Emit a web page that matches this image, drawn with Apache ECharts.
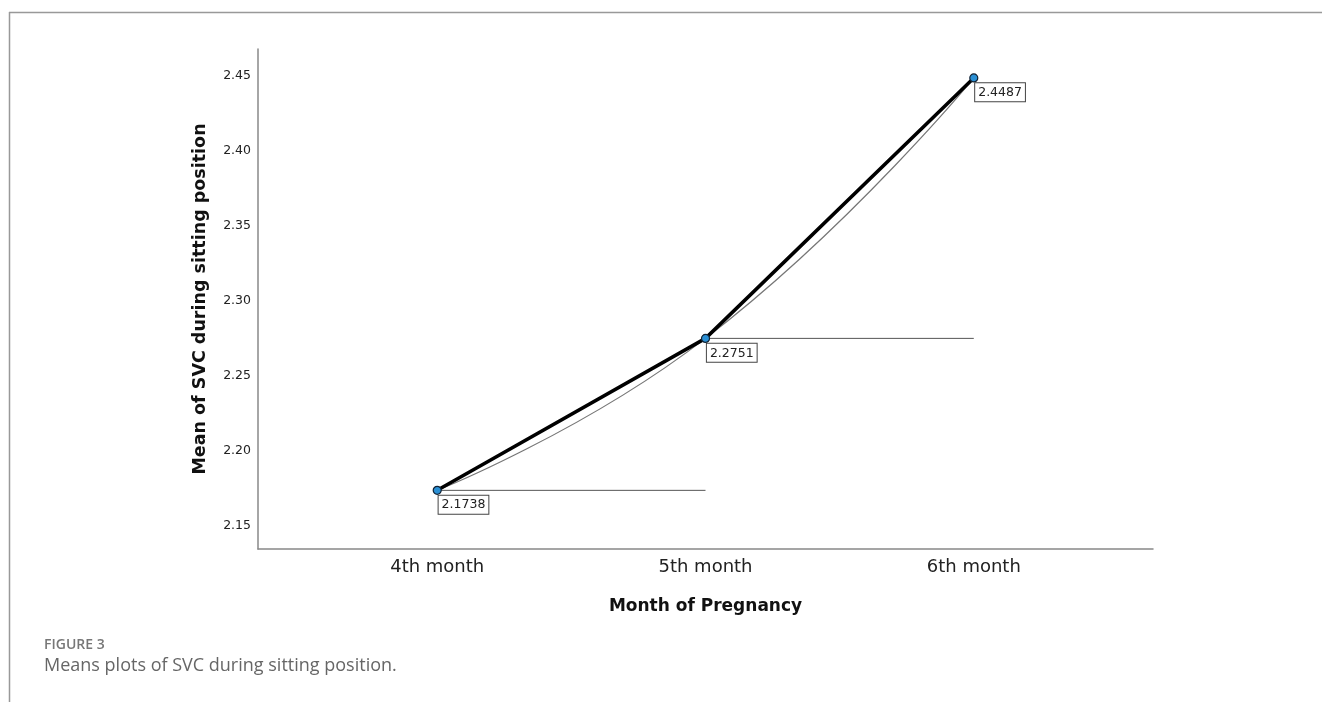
<!DOCTYPE html>
<html><head><meta charset="utf-8">
<script src="https://cdn.jsdelivr.net/npm/echarts@6/dist/echarts.min.js"></script>
<style>
html,body{margin:0;padding:0;background:#fff;}
#c{width:1322px;height:702px;}
</style></head>
<body><div id="c"></div>
<script>
const categories = ["4th month", "5th month", "6th month"];
const means = [2.1738, 2.2751, 2.4487];
const yTicks = [2.15, 2.20, 2.25, 2.30, 2.35, 2.40, 2.45];
const yTitle = "Mean of SVC during sitting position";
const xTitle = "Month of Pregnancy";
const figLabel = "FIGURE 3";
const caption = "Means plots of SVC during sitting position.";

const chart = echarts.init(document.getElementById('c'));
const pts = means.map((v, i) => [i, v]);
const refLines = [];
for (let i = 0; i < means.length - 1; i++) {
  refLines.push({
    type: 'line', data: [[i, means[i]], [i + 1, means[i]]], symbol: 'none', silent: true,
    lineStyle: { color: '#555', width: 1 }, z: 1
  });
}
chart.setOption({
  animation: false,
  graphic: [
    { type: 'line', shape: { x1: 9, y1: 12.5, x2: 1322, y2: 12.5 }, style: { stroke: '#999', lineWidth: 1.5 } },
    { type: 'line', shape: { x1: 9.5, y1: 12, x2: 9.5, y2: 702 }, style: { stroke: '#999', lineWidth: 1.5 } },
    { type: 'text', left: 44, top: 638, style: { text: figLabel, fill: '#777', font: '600 14px "Open Sans", sans-serif' } },
    { type: 'text', left: 44, top: 657, style: { text: caption, fill: '#666', font: '18px "Open Sans", sans-serif' } }
  ],
  grid: { left: 258, right: 169, top: 49, bottom: 153 },
  xAxis: {
    type: 'value', min: -0.668, max: 2.668,
    splitLine: { show: false },
    axisLine: { onZero: false, lineStyle: { color: '#888', width: 1.5 } },
    axisTick: { show: false },
    axisLabel: {
      customValues: [0, 1, 2], formatter: v => categories[Math.round(v)] || '',
      color: '#222', fontSize: 18, fontFamily: 'DejaVu Sans', margin: 9
    },
    name: xTitle, nameLocation: 'middle', nameGap: 49,
    nameTextStyle: { color: '#111', fontSize: 17, fontWeight: 'bold', fontFamily: 'DejaVu Sans' }
  },
  yAxis: {
    type: 'value', min: 2.1347, max: 2.468,
    splitLine: { show: false },
    axisLine: { show: true, onZero: false, lineStyle: { color: '#888', width: 1.5 } },
    axisTick: { show: false },
    axisLabel: {
      customValues: yTicks, formatter: v => v.toFixed(2),
      color: '#222', fontSize: 12.5, fontFamily: 'DejaVu Sans', margin: 7
    },
    name: yTitle, nameLocation: 'middle', nameGap: 49, nameRotate: 90,
    nameTextStyle: { color: '#111', fontSize: 17.5, fontWeight: 'bold', fontFamily: 'DejaVu Sans' }
  },
  series: refLines.concat([
    {
      type: 'line', data: pts, smooth: 0.5, symbol: 'none', silent: true,
      lineStyle: { color: '#777', width: 1.2 }, z: 2
    },
    {
      type: 'line', data: pts, symbol: 'circle', symbolSize: 8,
      lineStyle: { color: '#000', width: 3.5 },
      itemStyle: { color: '#2a8fd4', borderColor: '#123', borderWidth: 1.2 },
      label: {
        show: true, position: [6, 10], formatter: p => p.value[1].toFixed(4),
        color: '#222', fontSize: 12.5, fontFamily: 'DejaVu Sans',
        backgroundColor: '#fff', borderColor: '#444', borderWidth: 1, padding: [3, 3, 2, 3]
      },
      z: 5
    }
  ])
});
</script></body></html>
